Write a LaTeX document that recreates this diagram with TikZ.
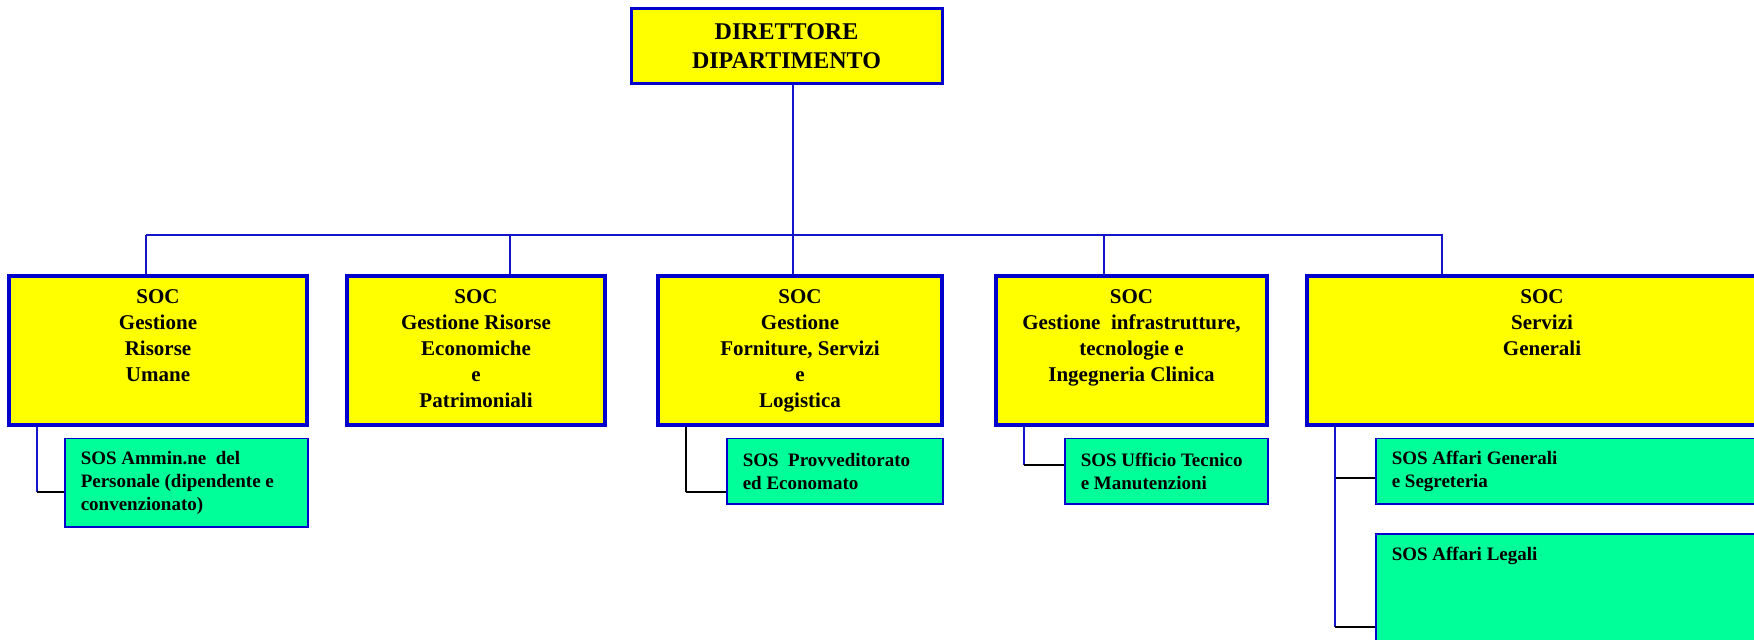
\documentclass[tikz,border=0pt]{standalone}
\usepackage{fontspec}
\setmainfont{Liberation Serif}
\usetikzlibrary{positioning}
\definecolor{boxblue}{RGB}{0,0,204}
\definecolor{linkblue}{RGB}{20,20,200}
\definecolor{socyellow}{RGB}{255,255,0}
\definecolor{sosgreen}{RGB}{0,255,153}
\begin{document}
\begin{tikzpicture}
[x=0.5pt,y=-0.5pt,
  dirbox/.style={draw=boxblue,line width=1.5pt,fill=socyellow,minimum width=155.5pt,
    minimum height=37.5pt,align=center,font=\fontsize{12}{14.5}\selectfont\bfseries},%
  socbox/.style={draw=boxblue,line width=1.6pt,fill=socyellow,minimum height=74.5pt},%
  soctext/.style={inner sep=0pt,align=center,font=\fontsize{10.5}{13}\selectfont\bfseries},%
  sosbox/.style={draw=boxblue,line width=0.75pt,fill=sosgreen,anchor=north west,
    inner xsep=8pt,align=flush left,font=\fontsize{9.5}{11.5}\selectfont\bfseries},%
  treelink/.style={draw=linkblue,line width=1pt},%
  sublink/.style={draw=black,line width=1pt}]
\useasboundingbox (0,0) rectangle (1754,640);
%% director
\node[dirbox] (dir) at (786.5,46.5) {DIRETTORE\\DIPARTIMENTO};
%% SOC boxes
\foreach \name/\x/\w/\txt in {socHR/158/149/{SOC\\Gestione\\Risorse\\Umane},
  socEP/476/129/{SOC\\Gestione Risorse\\Economiche\\e\\Patrimoniali},
  socFS/800/142/{SOC\\Gestione\\Forniture, Servizi\\e\\Logistica},
  socIT/1131.5/135.5/{SOC\\Gestione\ \ infrastrutture,\\tecnologie e\\Ingegneria Clinica},
  socSG/1542/235/{SOC\\Servizi\\Generali}} {
  \node[socbox,minimum width=\w pt] (\name) at (\x,350.5) {};
  \node[soctext,below=7.5pt of \name.north] (\name-txt) {\txt};
}
%% SOS boxes
\node[sosbox,text width=105.5pt,minimum height=44pt] (sosHR) at (64,438)
  {SOS Ammin.ne\ \ del\\Personale (dipendente e\\convenzionato)};
\node[sosbox,text width=92pt,minimum height=32.5pt] (sosFS) at (726,438)
  {SOS\ \ Provveditorato\\ed Economato};
\node[sosbox,text width=85.5pt,minimum height=32.5pt] (sosIT) at (1064,438)
  {SOS Ufficio Tecnico\\e Manutenzioni};
\node[sosbox,text width=184pt,minimum height=32.5pt] (sosAG) at (1375,438)
  {SOS Affari Generali\\e Segreteria};
\node[sosbox,text width=184pt,text height=10pt,text depth=40pt] (sosAL) at (1375,533)
  {SOS Affari Legali};
%% tree lines
\coordinate (trunk) at (793,235);
\coordinate (busL) at (146,235);
\coordinate (busR) at (1443,235);
\draw[treelink] (trunk |- dir.south) -- (trunk |- socFS.north);
\draw[treelink] (busL) -- (busR);
\foreach \name/\x in {socHR/146, socEP/510, socIT/1104, socSG/1442} {
  \coordinate (drop-\name) at (\x,235);
  \draw[treelink] (drop-\name) -- (drop-\name |- \name.north);
}
%% SOC to SOS
\foreach \soc/\sos/\x/\y/\vcol in {socHR/sosHR/37/492/linkblue,
  socFS/sosFS/686/492/black, socIT/sosIT/1024/465/linkblue,
  socSG/sosAG/1335/478/linkblue, socSG/sosAL/1335/627/linkblue} {
  \coordinate (elb-\sos) at (\x,\y);
  \draw[treelink,draw=\vcol] (elb-\sos |- \soc.south) -- (elb-\sos);
  \draw[sublink] (elb-\sos) -- (elb-\sos -| \sos.west);
}
\end{tikzpicture}
\end{document}
